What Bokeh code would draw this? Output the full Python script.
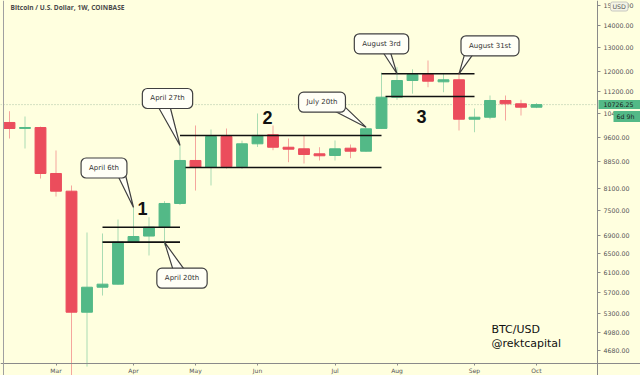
import math
import datetime
from bokeh.plotting import figure
from bokeh.models import (ColumnDataSource, FixedTicker, PrintfTickFormatter, Range1d,
                          Label, Span, GlobalInlineStyleSheet)
from bokeh.embed import file_html
from bokeh.resources import INLINE

# ---------------- data (weekly BTC/USD, Coinbase) ----------------
weeks = ["2020-02-10", "2020-02-17", "2020-02-24", "2020-03-02", "2020-03-09", "2020-03-16",
         "2020-03-23", "2020-03-30", "2020-04-06", "2020-04-13", "2020-04-20", "2020-04-27",
         "2020-05-04", "2020-05-11", "2020-05-18", "2020-05-25", "2020-06-01", "2020-06-08",
         "2020-06-15", "2020-06-22", "2020-06-29", "2020-07-06", "2020-07-13", "2020-07-20",
         "2020-07-27", "2020-08-03", "2020-08-10", "2020-08-17", "2020-08-24", "2020-08-31",
         "2020-09-07", "2020-09-14", "2020-09-21", "2020-09-28", "2020-10-05"]
opens = [10100, 9900, 9930, 8506, 8014, 5332, 5800, 5860, 6750, 6890, 7099, 7689,
         8887, 8688, 9634, 8705, 9400, 9690, 9292, 9243, 9089, 9038, 9262, 9169,
         9900, 10998, 11633, 11870, 11582, 11661, 10211, 10280, 10876, 10756, 10633]
closes = [9897, 9931, 8506, 8014, 5332, 5800, 5860, 6750, 6880, 7099, 7689, 8887,
          8688, 9634, 8705, 9400, 9669, 9292, 9231, 9068, 9029, 9243, 9169, 9887,
          10998, 11633, 11870, 11606, 11661, 10211, 10280, 10876, 10756, 10633, 10726.25]
highs = [10490, 10305, 9960, 9191, 8169, 6973, 6950, 7285, 7586, 7341, 7750, 9347,
         9998, 9864, 9897, 9500, 10410, 9998, 9569, 9666, 9292, 9506, 9378, 9941,
         11950, 12166, 12080, 12444, 11911, 11963, 10586, 11060, 11060, 10901, 10780]
lows = [9569, 9253, 8363, 7871, 3850, 4440, 5640, 5850, 6740, 6454, 6675, 7650,
        8032, 8170, 8650, 8640, 9300, 9200, 8836, 8797, 8887, 8887, 8955, 9150,
        9880, 10900, 11130, 11374, 11184, 9831, 9774, 10210, 10167, 10340, 10600]

price_ticks = [4680, 4980, 5300, 5700, 6100, 6500, 6900, 7500, 8100, 8850, 9600,
               10400, 11200, 12000, 13000, 14000, 15000]

# horizontal range levels (price, start week index, end week index)
level_prices = [7099, 6750, 9669, 8679, 11899, 11022]
level_start = [6, 6, 11, 11.35, 24, 24.26]
level_end = [11, 11, 24, 24, 30, 30]

# callouts: text, anchored week index and price
callout_texts = ["April 6th", "April 20th", "April 27th", "July 20th", "August 3rd", "August 31st"]
callout_week = [8, 10, 11, 23, 25, 29]
callout_price = [7586, 6750, 9347, 9941, 11899, 11899]

range_numbers = ["1", "2", "3"]
range_number_week = [8.58, 16.65, 26.58]
range_number_price = [7560, 10270, 10306]

# ---------------- layout / style ----------------
BG = "#ffffdf"
GREEN = "#53b987"
RED = "#eb4d5c"
W, H = 640, 375
BAR_PX = 15.5
X0_PAGE = 9.0
AXIS_X_PAGE = 597
AXIS_Y_PAGE = 363
PX_PER_LN = 297.0
REF_PRICE, REF_Y = 14000.0, 25.0

def idx_at(px):
    return (px - X0_PAGE) / BAR_PX

def price_at(py):
    return REF_PRICE * math.exp((REF_Y - py) / PX_PER_LN)

# box center offset from anchor (px, +down) and tail base points relative to box center
callout_box_off = [(-29.5, -39.5), (17.5, 36), (-12.5, -47), (-44, -25), (-15.5, -30), (31, -28)]
callout_tail = [[(13.5, 7), (21.5, 7)], [(-8.5, -7), (3.5, -7)], [(-9.5, 8), (2.5, 8)],
                [(9, 7), (19, 1)], [(0.5, 7), (8.5, 7)], [(-25, 7), (-16, 7)]]

x_range = Range1d(idx_at(0), idx_at(W))
y_range = Range1d(price_at(H), price_at(0))

p = figure(width=W, height=H, x_range=x_range, y_range=y_range, y_axis_type="log",
           y_axis_location="right", output_backend="svg", toolbar_location=None,
           min_border_left=0, min_border_top=0, min_border_right=0, min_border_bottom=0,
           background_fill_color=BG, border_fill_color=BG)
p.outline_line_color = None
p.grid.visible = False
p.stylesheets = [GlobalInlineStyleSheet(css="body{background:%s;}" % BG)]

# axes
yax = p.yaxis[0]
yax.fixed_location = idx_at(AXIS_X_PAGE)
yax.ticker = FixedTicker(ticks=price_ticks)
yax.formatter = PrintfTickFormatter(format="%.2f")
yax.major_label_text_font = "DejaVu Sans"
yax.major_label_text_font_size = "6.3px"
yax.major_label_text_color = "#555555"
yax.axis_line_color = "#8a8a8a"
yax.major_tick_line_color = "#8a8a8a"
yax.major_tick_in = 0
yax.major_tick_out = 3
yax.minor_tick_line_color = None
yax.major_label_standoff = 3

x = list(range(len(weeks)))
dates = [datetime.date.fromisoformat(w) for w in weeks]
month_idx = [i for i in range(1, len(dates)) if dates[i].month != dates[i - 1].month]
xax = p.xaxis[0]
xax.fixed_location = price_at(AXIS_Y_PAGE)
xax.ticker = FixedTicker(ticks=month_idx)
xax.major_label_overrides = {i: dates[i].strftime("%b") for i in month_idx}
xax.major_label_text_font = "DejaVu Sans"
xax.major_label_text_font_size = "6px"
xax.major_label_text_color = "#555555"
xax.axis_line_color = "#8a8a8a"
xax.major_tick_line_color = "#8a8a8a"
xax.major_tick_in = 0
xax.major_tick_out = 2
xax.minor_tick_line_color = None
xax.major_label_standoff = 1

# left frame line and last-price line
p.add_layout(Span(location=idx_at(3), dimension="height", line_color="#a0a0a0", line_width=1))
p.segment(x0=[x_range.start], y0=[closes[-1]], x1=[idx_at(AXIS_X_PAGE)], y1=[closes[-1]],
          line_color="#a9c3a6", line_dash="1 2", line_width=1)

# candles
colors = [GREEN if c >= o else RED for o, c in zip(opens, closes)]
src = ColumnDataSource(dict(x=x, top=[max(o, c) for o, c in zip(opens, closes)],
                            bottom=[min(o, c) for o, c in zip(opens, closes)],
                            high=highs, low=lows, color=colors))
p.segment(x0="x", y0="low", x1="x", y1="high", line_color="color", line_alpha=0.5,
          line_width=1, source=src)
p.vbar(x="x", width=0.7, top="top", bottom="bottom", fill_color="color",
       line_color="color", source=src)

# range levels
p.segment(x0=level_start, y0=level_prices, x1=level_end, y1=level_prices,
          line_color="#111111", line_width=1.6)

# callouts
BOX_FILL = "#fffff6"
BOX_LINE = "#404040"
tail_xs, tail_ys = [], []
box_pos = []
for wk, pr, (dx, dy), tail in zip(callout_week, callout_price, callout_box_off, callout_tail):
    bx = wk + dx / BAR_PX
    by = pr * math.exp(-dy / PX_PER_LN)
    box_pos.append((bx, by))
    xs = [wk] + [bx + tx / BAR_PX for tx, ty in tail]
    ys = [pr] + [by * math.exp(-ty / PX_PER_LN) for tx, ty in tail]
    tail_xs.append(xs)
    tail_ys.append(ys)
p.patches(xs=tail_xs, ys=tail_ys, fill_color=BOX_FILL, line_color=BOX_LINE, line_width=1.2)
for txt, (bx, by) in zip(callout_texts, box_pos):
    p.add_layout(Label(x=bx, y=by, text=txt, text_align="center", text_baseline="middle",
                       text_font="DejaVu Sans", text_font_size="7px", text_color="#333333",
                       background_fill_color=BOX_FILL, border_line_color=BOX_LINE,
                       border_line_width=1.2, border_radius=5,
                       padding=dict(left=8, right=8, top=6, bottom=6)))

for txt, wk, pr in zip(range_numbers, range_number_week, range_number_price):
    p.add_layout(Label(x=wk, y=pr, text=txt, text_align="center", text_baseline="middle",
                       text_font="Liberation Sans", text_font_style="bold",
                       text_font_size="18px", text_color="#111111"))

# texts
p.add_layout(Label(x=idx_at(10), y=price_at(7), text="Bitcoin / U.S. Dollar, 1W, COINBASE",
                   text_align="left", text_baseline="middle", text_font="Open Sans",
                   text_font_style="bold", text_font_size="6.6px", text_color="#4a4a4a"))
p.add_layout(Label(x=idx_at(491), y=price_at(329), text="BTC/USD", text_align="left",
                   text_baseline="middle", text_font="DejaVu Sans", text_font_size="11px",
                   text_color="#111111"))
p.add_layout(Label(x=idx_at(491), y=price_at(343), text="@rektcapital", text_align="left",
                   text_baseline="middle", text_font="DejaVu Sans", text_font_size="11px",
                   text_color="#111111"))

# last price tag on the axis
p.add_layout(Label(x=idx_at(598), y=closes[-1], text="%.2f" % closes[-1], text_align="left",
                   text_baseline="middle", text_font="DejaVu Sans", text_font_size="6.3px",
                   text_color="#1b1b1b", background_fill_color=GREEN,
                   padding=dict(left=5, right=12, top=2, bottom=2)))
p.add_layout(Label(x=idx_at(613), y=price_at(116), text="6d 9h", text_align="left",
                   text_baseline="middle", text_font="DejaVu Sans", text_font_size="6.3px",
                   text_color="#1b1b1b", background_fill_color=GREEN,
                   padding=dict(left=3, right=8, top=2, bottom=2)))
p.add_layout(Label(x=idx_at(610), y=price_at(6), text="USD", text_align="left",
                   text_baseline="middle", text_font="DejaVu Sans", text_font_size="6.3px",
                   text_color="#555555", background_fill_color="#f4f4e6",
                   border_line_color="#c8c8c0", border_radius=2,
                   padding=dict(left=2, right=2, top=1, bottom=1)))

open("out.html", "w").write(file_html(p, INLINE))
